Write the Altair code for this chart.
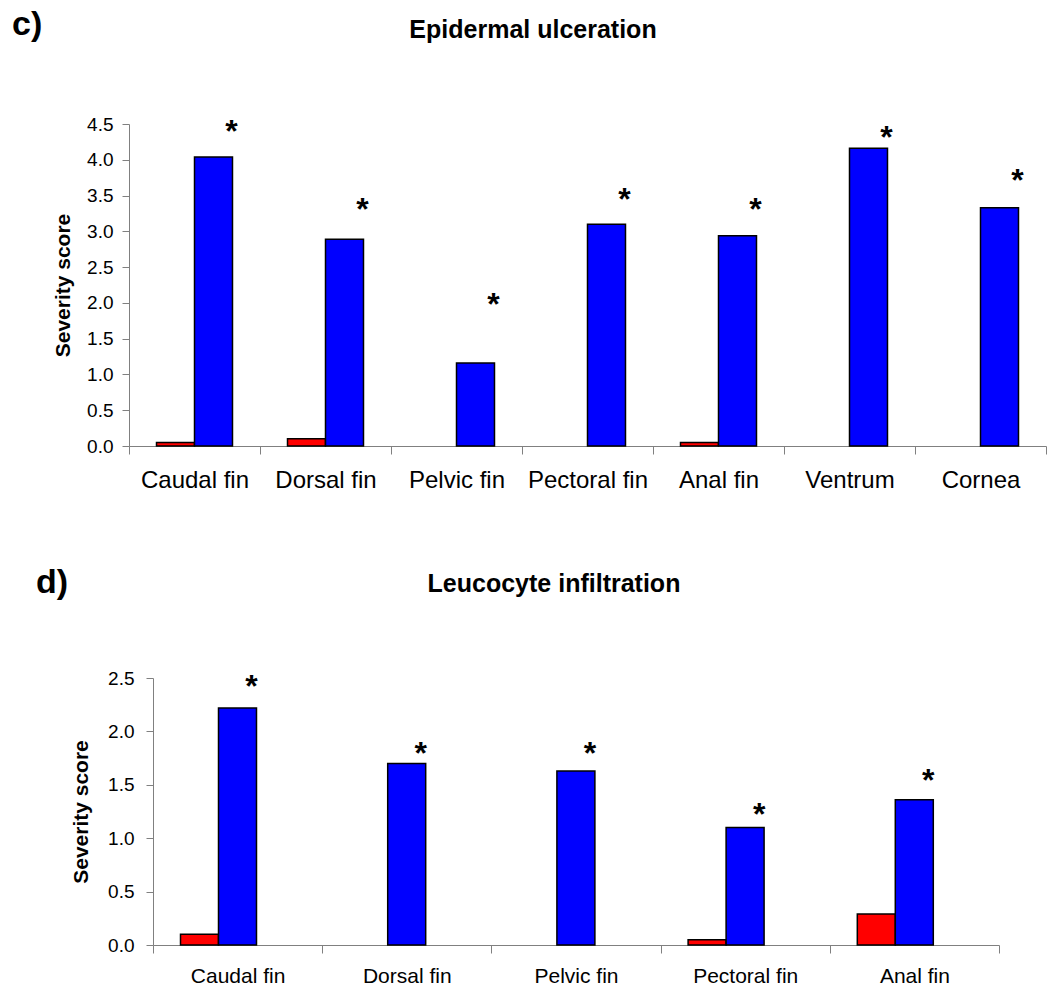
import altair as alt
import pandas as pd

FONT = "Liberation Sans"

# ---- data ----
groups = ["Control", "Exposed"]
group_colors = ["#FF0000", "#0000FF"]
y_title = "Severity score"

c_letter = "c)"
c_title = "Epidermal ulceration"
c_sites = ["Caudal fin", "Dorsal fin", "Pelvic fin", "Pectoral fin", "Anal fin", "Ventrum", "Cornea"]
c_control = [0.05, 0.10, 0.0, 0.0, 0.05, 0.0, 0.0]
c_exposed = [4.04, 2.89, 1.16, 3.10, 2.94, 4.16, 3.33]
c_star = [4.50, 3.41, 2.08, 3.55, 3.41, 4.42, 3.81]
c_ticks = [0.0, 0.5, 1.0, 1.5, 2.0, 2.5, 3.0, 3.5, 4.0, 4.5]

d_letter = "d)"
d_title = "Leucocyte infiltration"
d_sites = ["Caudal fin", "Dorsal fin", "Pelvic fin", "Pectoral fin", "Anal fin"]
d_control = [0.10, 0.0, 0.0, 0.05, 0.29]
d_exposed = [2.22, 1.70, 1.63, 1.10, 1.36]
d_star = [2.49, 1.86, 1.86, 1.29, 1.61]
d_ticks = [0.0, 0.5, 1.0, 1.5, 2.0, 2.5]


def panel(sites, control, exposed, stars, ticks, title, letter, width, height,
          xlab_size, xlab_pad, ylab_size, ylab_pad, ytitle_x,
          title_x, title_y, letter_x, letter_y, star_dx, anchor=False):
    bars = pd.DataFrame({
        "site": sites * 2,
        "group": [groups[0]] * len(sites) + [groups[1]] * len(sites),
        "score": control + exposed,
    })
    star_df = pd.DataFrame({"site": sites, "group": groups[1], "score": stars, "mark": "*"})

    x = alt.X("site:N", sort=sites,
              scale=alt.Scale(paddingInner=0, paddingOuter=0),
              axis=alt.Axis(title=None, labelAngle=0, tickBand="extent", tickSize=8,
                            labelPadding=xlab_pad, labelFont=FONT, labelFontSize=xlab_size,
                            labelColor="black", domainColor="#808080", tickColor="#808080",
                            domainWidth=1, tickWidth=1, grid=False))
    xo = alt.XOffset("group:N", sort=groups,
                     scale=alt.Scale(domain=groups, paddingInner=0, paddingOuter=0.724))
    y = alt.Y("score:Q",
              scale=alt.Scale(domain=[0, ticks[-1]], nice=False, zero=True),
              axis=alt.Axis(values=ticks, format=".1f", title=y_title,
                            titleFont=FONT, titleFontSize=21, titleFontWeight="bold",
                            titleColor="black", titleX=ytitle_x, titleY=height / 2,
                            titleAngle=270, titleAlign="center", titleBaseline="middle",
                            labelFont=FONT, labelFontSize=ylab_size, labelColor="black",
                            labelPadding=ylab_pad, tickSize=7, domainColor="#808080",
                            tickColor="#808080", domainWidth=1, tickWidth=1, grid=False))

    bar_layer = alt.Chart(bars).transform_filter("datum.score > 0").mark_bar(
        stroke="black", strokeWidth=1.5
    ).encode(
        x=x, xOffset=xo, y=y,
        color=alt.Color("group:N", scale=alt.Scale(domain=groups, range=group_colors), legend=None),
    )

    star_layer = alt.Chart(star_df).mark_text(
        font=FONT, fontSize=32, fontWeight="bold", color="black",
        align="center", baseline="alphabetic", dx=star_dx, dy=18
    ).encode(x=x, xOffset=xo, y=y, text="mark:N")

    title_layer = alt.Chart(pd.DataFrame({"t": [title]})).mark_text(
        font=FONT, fontSize=25, fontWeight="bold", color="black",
        align="center", baseline="alphabetic"
    ).encode(x=alt.value(title_x), y=alt.value(title_y), text="t:N")

    letter_layer = alt.Chart(pd.DataFrame({"t": [letter]})).mark_text(
        font=FONT, fontSize=34, fontWeight="bold", color="black",
        align="left", baseline="alphabetic"
    ).encode(x=alt.value(letter_x), y=alt.value(letter_y), text="t:N")

    layers = [bar_layer, star_layer, title_layer, letter_layer]
    if anchor:
        # invisible anchor fixing the page's top-left corner
        layers.append(
            alt.Chart(pd.DataFrame({"a": [0]})).mark_rect(opacity=0).encode(
                x=alt.value(-129), x2=alt.value(-128), y=alt.value(-124), y2=alt.value(-123))
        )
    return alt.layer(*layers).properties(width=width, height=height)


top = panel(c_sites, c_control, c_exposed, c_star, c_ticks, c_title, c_letter,
            917, 322, 24, 14, 19, 9, -66, 404, -86, -117, -89, 18, anchor=True)
bottom = panel(d_sites, d_control, d_exposed, d_star, d_ticks, d_title, d_letter,
               846, 267, 21, 12, 19, 12, -72, 401, -86, -117, -85, 14)

spacer = alt.Chart(pd.DataFrame({"a": [0]})).mark_rect(opacity=0).encode(
    x=alt.value(0), x2=alt.value(1), y=alt.value(0), y2=alt.value(1)
).properties(width=24, height=1)

lower = alt.hconcat(spacer, bottom, spacing=0, bounds="flush")

chart = alt.vconcat(top, lower, spacing=232, bounds="flush").properties(
    padding=0, background="white"
).configure_view(stroke=None)

chart.save("out.html", embed_options={"renderer": "svg", "actions": False})
